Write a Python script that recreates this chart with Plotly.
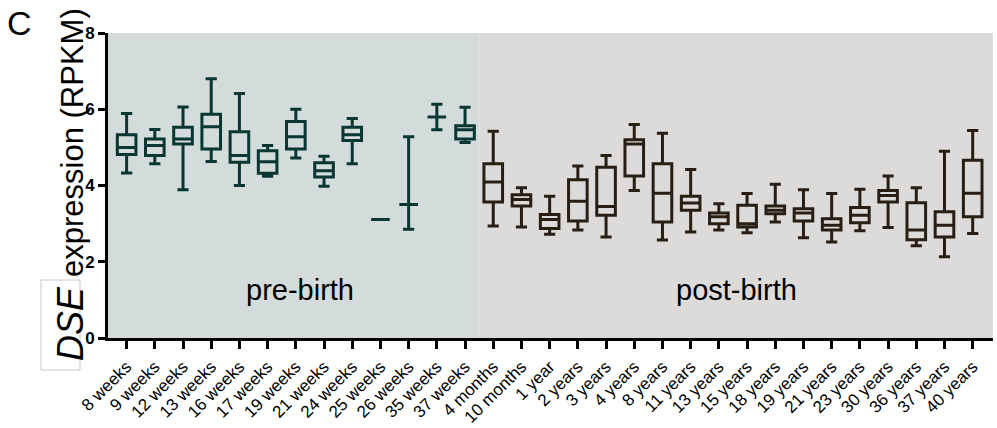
import plotly.graph_objects as go

# ---- data ----
pre_categories = ["8 weeks", "9 weeks", "12 weeks", "13 weeks", "16 weeks", "17 weeks",
                  "19 weeks", "21 weeks", "24 weeks", "25 weeks", "26 weeks", "35 weeks", "37 weeks"]
pre_upper = [5.89, 5.47, 6.06, 6.80, 6.41, 5.05, 6.00, 4.77, 5.76, 3.11, 5.28, 6.13, 6.05]
pre_q3    = [5.33, 5.22, 5.53, 5.87, 5.41, 4.91, 5.68, 4.60, 5.53, 3.11, 3.50, 5.80, 5.57]
pre_med   = [5.00, 5.05, 5.22, 5.54, 4.79, 4.62, 5.28, 4.39, 5.33, 3.11, 3.50, 5.80, 5.46]
pre_q1    = [4.81, 4.79, 5.09, 4.96, 4.61, 4.32, 4.96, 4.22, 5.18, 3.11, 3.50, 5.80, 5.22]
pre_lower = [4.33, 4.57, 3.89, 4.63, 4.00, 4.24, 4.72, 3.98, 4.57, 3.11, 2.85, 5.46, 5.13]

post_categories = ["4 months", "10 months", "1 year", "2 years", "3 years", "4 years", "8 years",
                   "11 years", "13 years", "15 years", "18 years", "19 years", "21 years",
                   "23 years", "30 years", "36 years", "37 years", "40 years"]
post_upper = [5.42, 3.94, 3.72, 4.51, 4.79, 5.60, 5.37, 4.42, 3.52, 3.79, 4.03, 3.89, 3.79, 3.90, 4.25, 3.94, 4.90, 5.44]
post_q3    = [4.57, 3.76, 3.24, 4.15, 4.48, 5.20, 4.57, 3.72, 3.28, 3.48, 3.46, 3.39, 3.13, 3.42, 3.87, 3.55, 3.31, 4.66]
post_med   = [4.09, 3.63, 3.11, 3.59, 3.45, 5.09, 3.80, 3.54, 3.18, 3.00, 3.35, 3.28, 2.96, 3.22, 3.74, 2.83, 2.96, 3.80]
post_q1    = [3.57, 3.46, 2.87, 3.07, 3.22, 4.25, 3.04, 3.35, 3.00, 2.91, 3.26, 3.07, 2.83, 3.02, 3.57, 2.58, 2.65, 3.18]
post_lower = [2.94, 2.91, 2.72, 2.83, 2.65, 3.87, 2.57, 2.78, 2.83, 2.76, 3.04, 2.63, 2.52, 2.81, 2.90, 2.42, 2.13, 2.74]

y_ticks = [0, 2, 4, 6, 8]

# ---- styles ----
FONT = "Arial, 'Liberation Sans', sans-serif"
PRE_LINE = "#083632"
POST_LINE = "#281E14"
PRE_BG = "#D3DCDB"
POST_BG = "#DCDBD9"

all_categories = pre_categories + post_categories
n_pre = len(pre_categories)
x_lo, x_hi = -0.66, len(all_categories) - 0.28

fig = go.Figure()
fig.add_trace(go.Box(
    x=pre_categories, q1=pre_q1, median=pre_med, q3=pre_q3,
    lowerfence=pre_lower, upperfence=pre_upper,
    boxpoints=False, width=0.66, whiskerwidth=0.6,
    line=dict(color=PRE_LINE, width=3), fillcolor="rgba(0,0,0,0)",
    showlegend=False, hoverinfo="skip"))
fig.add_trace(go.Box(
    x=post_categories, q1=post_q1, median=post_med, q3=post_q3,
    lowerfence=post_lower, upperfence=post_upper,
    boxpoints=False, width=0.66, whiskerwidth=0.6,
    line=dict(color=POST_LINE, width=3), fillcolor="rgba(0,0,0,0)",
    showlegend=False, hoverinfo="skip"))

# background regions
fig.add_shape(type="rect", xref="x", yref="y", x0=x_lo, x1=n_pre - 0.5, y0=0, y1=8,
              fillcolor=PRE_BG, line_width=0, layer="below")
fig.add_shape(type="rect", xref="x", yref="y", x0=n_pre - 0.5, x1=x_hi, y0=0, y1=8,
              fillcolor=POST_BG, line_width=0, layer="below")

# region labels
fig.add_annotation(x=6.13, y=1.25, xref="x", yref="y", text="pre-birth", showarrow=False,
                   font=dict(family=FONT, size=29, color="black"), yanchor="middle")
fig.add_annotation(x=21.63, y=1.25, xref="x", yref="y", text="post-birth", showarrow=False,
                   font=dict(family=FONT, size=29, color="black"), yanchor="middle")

# plot area geometry (pixels) for margin annotations
L, R, T, B = 108, 4, 33, 90
W, H = 997, 428
pw, ph = W - L - R, H - T - B

def px_x(p):
    return (p - L) / pw

def px_y(p):
    return (H - B - p) / ph

# y axis title
fig.add_annotation(x=px_x(72), y=px_y(143), xref="paper", yref="paper",
                   text="expression (RPKM)", textangle=-90, showarrow=False,
                   font=dict(family=FONT, size=31, color="black"),
                   xanchor="center", yanchor="middle")
fig.add_annotation(x=px_x(70), y=px_y(324), xref="paper", yref="paper",
                   text="<i>DSE</i>", textangle=-90, showarrow=False,
                   font=dict(family=FONT, size=36, color="black"),
                   xanchor="center", yanchor="middle")
# box around DSE
fig.add_shape(type="rect", xref="paper", yref="paper",
              x0=px_x(41), x1=px_x(80), y0=px_y(370), y1=px_y(280),
              line=dict(color="#C8C8C8", width=1), fillcolor="rgba(0,0,0,0)")
# panel label
fig.add_annotation(x=px_x(5), y=px_y(2), xref="paper", yref="paper", text="C",
                   showarrow=False, font=dict(family=FONT, size=34, color="black"),
                   xanchor="left", yanchor="top")

fig.update_layout(
    width=W, height=H,
    margin=dict(l=L, r=R, t=T, b=B),
    paper_bgcolor="white", plot_bgcolor="white",
    boxmode="overlay",
    xaxis=dict(type="category", categoryorder="array", categoryarray=all_categories,
               range=[x_lo, x_hi], showline=True, linewidth=3, linecolor="black",
               ticks="outside", ticklen=8, tickwidth=3, tickcolor="black",
               tickangle=-45, tickfont=dict(family=FONT, size=17, color="#000000"),
               ticklabelstandoff=1,
               showgrid=False, zeroline=False, automargin=False),
    yaxis=dict(range=[0, 8], tickvals=y_ticks, ticktext=[str(v) for v in y_ticks],
               showline=True, linewidth=3, linecolor="black",
               ticks="outside", ticklen=7, tickwidth=2.5, tickcolor="black",
               tickfont=dict(family=FONT, size=17, color="#000000", weight="bold"),
               showgrid=False, zeroline=False, automargin=False),
)

fig.write_html("out.html")
